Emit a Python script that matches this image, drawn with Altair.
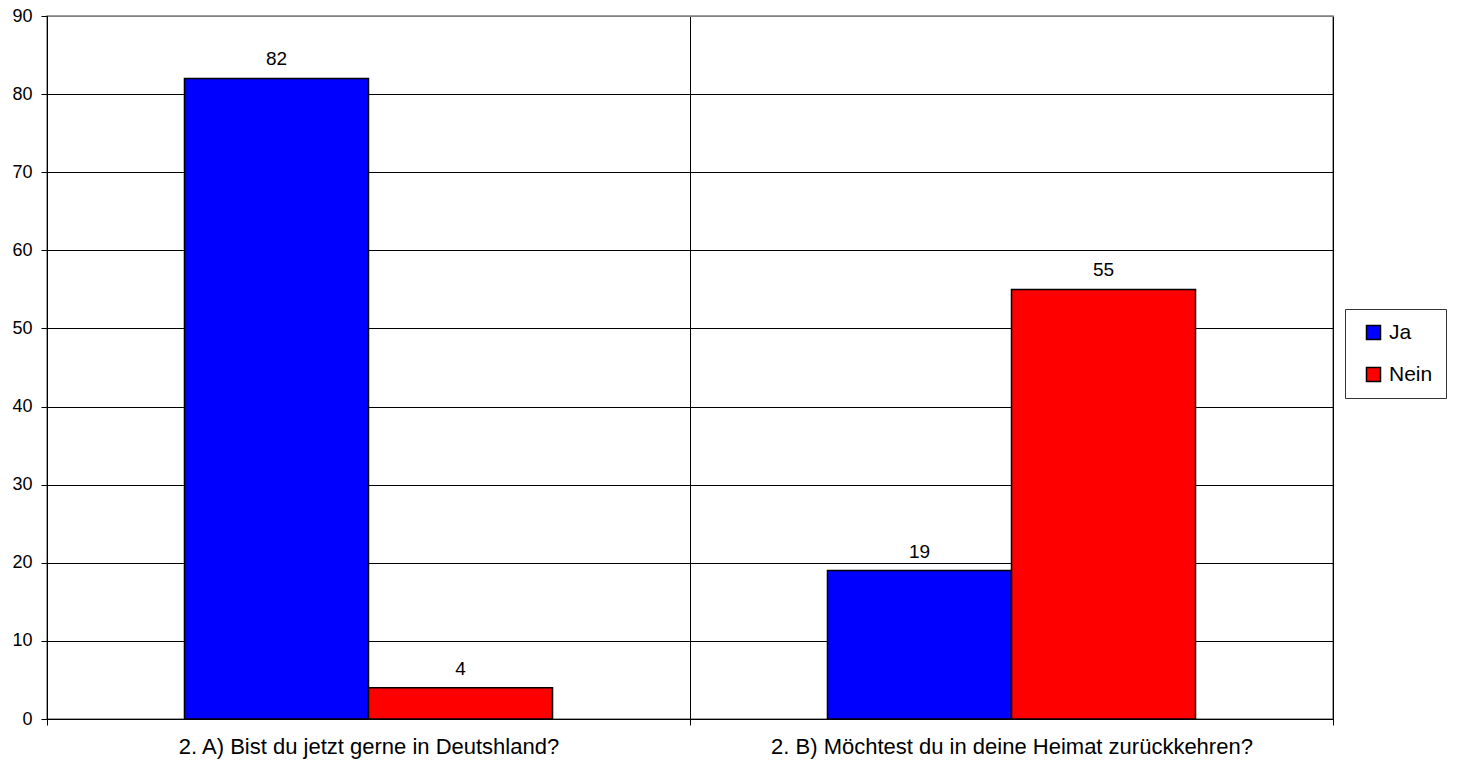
import altair as alt
import pandas as pd

# Survey answers per question
questions = [
    "2. A) Bist du jetzt gerne in Deutshland?",
    "2. B) Möchtest du in deine Heimat zurückkehren?",
]
answers = ["Ja", "Nein"]
counts = {
    "Ja": [82, 19],
    "Nein": [4, 55],
}
colors = ["#0000FF", "#FF0000"]

rows = []
for a in answers:
    for q, v in zip(questions, counts[a]):
        rows.append({"Frage": q, "Antwort": a, "Anzahl": v})
df = pd.DataFrame(rows)

FONT = "Liberation Sans"

x_enc = alt.X(
    "Frage:N",
    sort=questions,
    title=None,
    scale=alt.Scale(paddingInner=0, paddingOuter=0),
    axis=alt.Axis(
        labelAngle=0,
        labelFontSize=22,
        labelFont=FONT,
        labelColor="#000000",
        labelLimit=0,
        labelPadding=11,
        tickBand="extent",
        ticks=True,
        tickSize=6,
        tickColor="#000000",
        domainColor="#000000",
        grid=True,
        gridColor="#000000",
        gridWidth=1,
    ),
)
xoff_enc = alt.XOffset(
    "Antwort:N",
    sort=answers,
    scale=alt.Scale(paddingInner=0, paddingOuter=0.747),
)
y_enc = alt.Y(
    "Anzahl:Q",
    title=None,
    scale=alt.Scale(domain=[0, 90], nice=False),
    axis=alt.Axis(
        values=list(range(0, 91, 10)),
        labelFontSize=18,
        labelFont=FONT,
        labelColor="#000000",
        labelPadding=9,
        tickSize=6,
        tickColor="#000000",
        domainColor="#000000",
        gridColor={"condition": {"test": "datum.value == 90", "value": "#808080"}, "value": "#000000"},
        gridWidth=1,
    ),
)

bars = alt.Chart(df).mark_bar(stroke="#000000", strokeWidth=1.5).encode(
    x=x_enc,
    xOffset=xoff_enc,
    y=y_enc,
    color=alt.Color(
        "Antwort:N",
        sort=answers,
        scale=alt.Scale(domain=answers, range=colors),
        legend=alt.Legend(
            title=None,
            orient="none",
            legendX=1298,
            legendY=293,
            direction="vertical",
            symbolType="square",
            symbolSize=196,
            symbolStrokeColor="#000000",
            symbolStrokeWidth=1.5,
            symbolOffset=5,
            labelFontSize=21,
            labelFont=FONT,
            labelColor="#000000",
            labelOffset=5,
            rowPadding=20,
            padding=13,
            strokeColor="#333333",
            fillColor="#FFFFFF",
        ),
    ),
)

labels = alt.Chart(df).mark_text(
    baseline="middle", dy=-19, fontSize=19, font=FONT, color="#000000"
).encode(
    x=alt.X("Frage:N", sort=questions),
    xOffset=alt.XOffset("Antwort:N", sort=answers),
    y=alt.Y("Anzahl:Q"),
    text=alt.Text("Anzahl:Q"),
)

chart = (
    alt.layer(bars, labels)
    .properties(
        width=1286,
        height=703,
        autosize=alt.AutoSizeParams(type="none"),
        padding={"left": 47, "top": 16, "right": 124, "bottom": 46},
        background="#FFFFFF",
    )
    .configure_view(stroke="#808080", strokeWidth=1.5)
)

chart.save("out.html", embed_options={"renderer": "svg", "actions": False})
